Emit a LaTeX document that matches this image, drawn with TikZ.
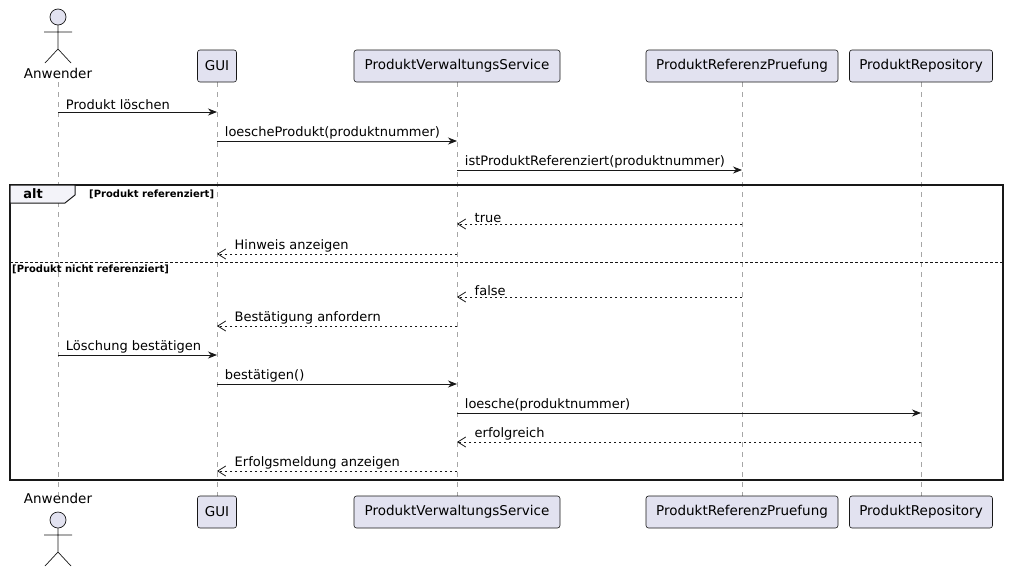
\documentclass[tikz,border=0pt]{standalone}
\usepackage{fontspec}
\setmainfont{DejaVu Sans}
\usetikzlibrary{arrows.meta,calc}
\definecolor{boxfill}{HTML}{E2E2F0}
\definecolor{boxline}{HTML}{181818}
\tikzset{x=1pt,y=-1pt,
 part/.style={draw=boxline,fill=boxfill,rounded corners=2.5pt,minimum height=32pt,inner sep=0pt,font=\fontsize{13.5}{15}\selectfont,line width=0.6pt},
 life/.style={draw=gray!70,dashed,dash pattern=on 5pt off 5pt,line width=0.6pt},
 sync/.style={-{Stealth[length=9pt,width=7pt]},line width=0.8pt,draw=boxline},
 reply/.style={-{Straight Barb[length=8pt,width=10pt]},line width=0.8pt,draw=boxline,dash pattern=on 2.5pt off 2.5pt},
 mtxt/.style={anchor=south west,inner sep=1.5pt,font=\fontsize{13}{15}\selectfont},
 guard/.style={anchor=west,inner sep=0pt,font=\bfseries\fontsize{10}{12}\selectfont}}
\newcommand\actorfig[2]{%
 \draw[draw=boxline,fill=boxfill,line width=0.7pt] (#1,#2) circle (8);
 \draw[boxline,line width=0.7pt] (#1,#2+8) -- (#1,#2+32) (#1-14,#2+15) -- (#1+14,#2+15)
   (#1-13,#2+46) -- (#1,#2+32) -- (#1+13,#2+46);}
\newcommand\msgR[5]{\draw[#5] (#1|-0,#3) -- (#2|-0,#3) node[pos=0,mtxt,xshift=6pt] {#4};}
\newcommand\msgL[5]{\draw[#5] (#1|-0,#3) -- (#2|-0,#3); \node[mtxt] at ($(#2|-0,#3)+(16,0)$) {#4};}
\begin{document}
\begin{tikzpicture}
\useasboundingbox (0,0) rectangle (1009,576);
% lifeline x coordinates
\coordinate (an) at (58,0);
\coordinate (gu) at (217,0);
\coordinate (pv) at (457,0);
\coordinate (pr) at (742,0);
\coordinate (re) at (921,0);
\draw[life] (58,82) -- (58,496);
\foreach \c in {gu,pv,pr,re} \draw[life] (\c|-0,82) -- (\c|-0,496);
% actors
\actorfig{58}{17}
\node[font=\fontsize{13.5}{15}\selectfont] (anT) at (58,73) {Anwender};
\node[font=\fontsize{13.5}{15}\selectfont] (anB) at (58,498) {Anwender};
\actorfig{58}{520}
% participants
\foreach \n/\x/\w/\t in {gu/217/39/GUI,pv/457/206/ProduktVerwaltungsService,pr/742/192/ProduktReferenzPruefung,re/921/143/ProduktRepository}{
 \node[part,minimum width=\w pt] (\n T) at (\x,66) {\t};
 \node[part,minimum width=\w pt] (\n B) at (\x,512) {\t};}
% alt frame
\draw[line width=1.3pt,boxline] (10,185) rectangle (1003,480);
\draw[line width=1pt,boxline,fill=boxfill!40] (10,185) -- (75,185) -- (75,195) -- (65,203) -- (10,203) -- cycle;
\node[font=\bfseries\fontsize{13}{15}\selectfont] (altL) at (33,194) {alt};
\node[guard] (g1) at (89,194) {[Produkt referenziert]};
\draw[boxline,line width=0.8pt,dash pattern=on 2.5pt off 2.5pt] (10,262) -- (1003,262);
\node[guard] (g2) at (12,269) {[Produkt nicht referenziert]};
% messages
\msgR{an}{gu}{112}{Produkt löschen}{sync}
\msgR{gu}{pv}{141}{loescheProdukt(produktnummer)}{sync}
\msgR{pv}{pr}{170}{istProduktReferenziert(produktnummer)}{sync}
\msgL{pr}{pv}{224}{true}{reply}
\msgL{pv}{gu}{254}{Hinweis anzeigen}{reply}
\msgL{pr}{pv}{297}{false}{reply}
\msgL{pv}{gu}{326}{Bestätigung anfordern}{reply}
\msgR{an}{gu}{355}{Löschung bestätigen}{sync}
\msgR{gu}{pv}{384}{bestätigen()}{sync}
\msgR{pv}{re}{413}{loesche(produktnummer)}{sync}
\msgL{re}{pv}{442}{erfolgreich}{reply}
\msgL{pv}{gu}{471}{Erfolgsmeldung anzeigen}{reply}
\end{tikzpicture}
\end{document}
